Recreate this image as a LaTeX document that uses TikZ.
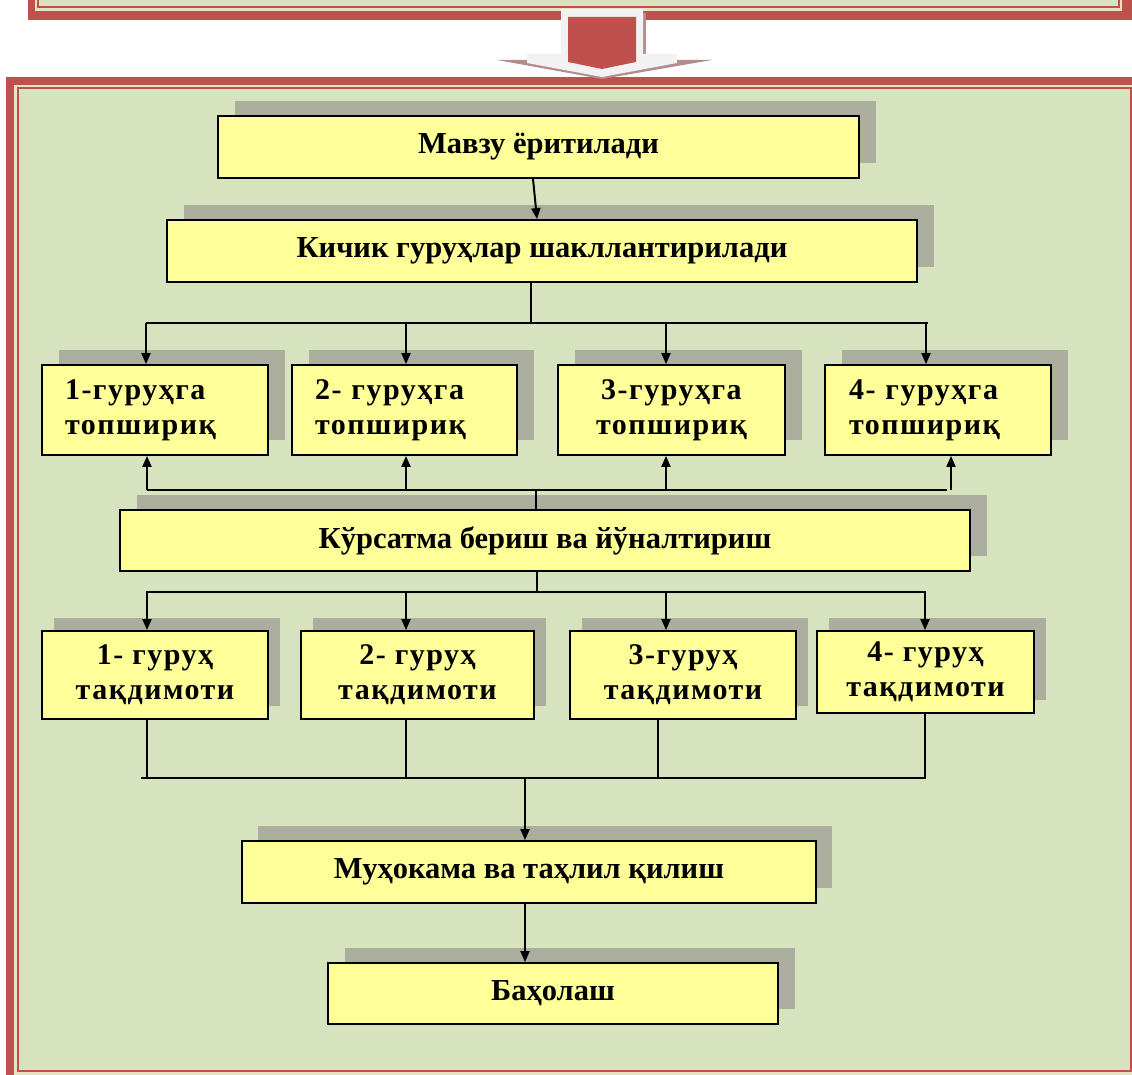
\documentclass[tikz,border=0pt]{standalone}
\usepackage{fontspec}
\setmainfont{Liberation Serif}
\usetikzlibrary{arrows.meta,shadows}
\definecolor{fred}{RGB}{192,80,77}
\definecolor{fbeige}{RGB}{232,226,196}
\definecolor{fgreen}{RGB}{215,227,190}
\definecolor{byellow}{RGB}{255,255,153}
\definecolor{shgray}{RGB}{171,174,156}
\definecolor{agray}{RGB}{242,242,242}
\definecolor{ashadow}{RGB}{181,140,140}
\newcommand\wideletters{\addfontfeature{LetterSpace=5}}
\begin{document}
\begin{tikzpicture}[x=1pt,y=-1pt,
  box/.style={draw=black,line width=1.8pt,fill=byellow,inner sep=0pt,
    font=\fontsize{30.5}{36}\selectfont\bfseries},
  twoline/.style={font=\fontsize{30}{35}\selectfont\bfseries\wideletters},
  shad/.style 2 args={drop shadow={shadow xshift=#1,shadow yshift=#2,fill=shgray,opacity=1}},
  conn/.style={line width=2pt,draw=black},
  arr/.style={conn,-{Triangle[length=11pt,width=9pt]}}]
\useasboundingbox (0,0) rectangle (1132,1075);
\clip (0,0) rectangle (1132,1075);
\fill[white] (0,0) rectangle (1132,1075);
% upper frame
\fill[fred] (28,-40) rectangle (1140,20);
\fill[fbeige] (35,-40) rectangle (1122,11);
\fill[fgreen] (38,-40) rectangle (1119,7);
\draw[fred,line width=2pt] (38,-40) -- (38,7) -- (1119,7) -- (1119,-40);
% lower frame
\fill[fred] (6,77) rectangle (1150,1100);
\fill[fbeige] (14,85) rectangle (1142,1090);
\draw[fred,line width=2pt,fill=fgreen] (18,88.5) rectangle (1131,1071);
% block arrow
\fill[ashadow] (497,60) -- (712,60) -- (602,79) -- cycle;
\fill[ashadow] (643,13) rectangle (646,56);
\fill[agray] (561,9) -- (643,9) -- (643,54) -- (677,54) -- (677,63) -- (602,77) -- (527,63) -- (527,54) -- (561,54) -- cycle;
\fill[fred] (568,17) -- (636,17) -- (636,62) -- (602,69) -- (568,62) -- cycle;
% boxes
\node[box,shad={17pt}{15pt},minimum width=641pt,minimum height=62pt] (b1) at (538.5,147) {Мавзу ёритилади};
\node[box,shad={17pt}{15pt},minimum width=750pt,minimum height=62pt] (b2) at (542,251) {Кичик гуруҳлар шакллантирилади};
\node[box,twoline,shad={17pt}{15pt},minimum width=226pt,minimum height=90pt,text width=180pt,inner xsep=23pt,align=left] (t1) at (155,410) {1-гуруҳга\\топшириқ};
\node[box,twoline,shad={17pt}{15pt},minimum width=225pt,minimum height=90pt,text width=179pt,inner xsep=23pt,align=left] (t2) at (404.5,410) {2- гуруҳга\\топшириқ};
\node[box,twoline,shad={17pt}{15pt},minimum width=227pt,minimum height=90pt,text width=181pt,inner xsep=23pt,align=center] (t3) at (671.5,410) {3-гуруҳга\\топшириқ};
\node[box,twoline,shad={17pt}{15pt},minimum width=226pt,minimum height=90pt,text width=178pt,inner xsep=24pt,align=left] (t4) at (938,410) {4- гуруҳга\\топшириқ};
\node[box,shad={17pt}{15pt},minimum width=850pt,minimum height=61pt] (k) at (545,540.5) {Кўрсатма бериш ва йўналтириш};
\node[box,twoline,shad={12pt}{13pt},minimum width=226pt,minimum height=88pt,align=center] (p1) at (155,675) {1- гуруҳ\\тақдимоти};
\node[box,twoline,shad={12pt}{13pt},minimum width=233pt,minimum height=88pt,align=center] (p2) at (417.5,675) {2- гуруҳ\\тақдимоти};
\node[box,twoline,shad={12pt}{13pt},minimum width=226pt,minimum height=88pt,align=center] (p3) at (683,675) {3-гуруҳ\\тақдимоти};
\node[box,twoline,shad={12pt}{13pt},minimum width=217pt,minimum height=82pt,align=center] (p4) at (925.5,672) {4- гуруҳ\\тақдимоти};
\node[box,shad={16pt}{15pt},minimum width=574pt,minimum height=62pt] (m) at (529,872) {Муҳокама ва таҳлил қилиш};
\node[box,shad={17pt}{15pt},minimum width=450pt,minimum height=61pt] (h) at (553,993.5) {Баҳолаш};
% connectors
\draw[arr] (b1.south -| 533,0) -- (b2.north -| 537,0);
\coordinate (ja) at (531,323);
\draw[conn] (b2.south -| ja) -- (ja);
\draw[conn] (146,323) -- (928,323);
\draw[arr] (146,323) -- (t1.north -| 146,0);
\draw[arr] (406,323) -- (t2.north -| 406,0);
\draw[arr] (666,323) -- (t3.north -| 666,0);
\draw[arr] (926,323) -- (t4.north -| 926,0);
\coordinate (jb) at (536,490);
\draw[conn] (k.north -| jb) -- (jb);
\draw[conn] (147,490) -- (947,490);
\draw[arr] (147,490) -- (t1.south -| 147,0);
\draw[arr] (406,490) -- (t2.south -| 406,0);
\draw[arr] (666,490) -- (t3.south -| 666,0);
\draw[arr] (951,490) -- (t4.south -| 951,0);
\coordinate (jc) at (537,592);
\draw[conn] (k.south -| jc) -- (jc);
\draw[conn] (146,592) -- (926,592);
\draw[arr] (147,592) -- (p1.north -| 147,0);
\draw[arr] (406,592) -- (p2.north -| 406,0);
\draw[arr] (666,592) -- (p3.north -| 666,0);
\draw[arr] (925,592) -- (p4.north -| 925,0);
\draw[conn] (p1.south -| 147,0) -- (147,778);
\draw[conn] (p2.south -| 406,0) -- (406,778);
\draw[conn] (p3.south -| 658,0) -- (658,778);
\draw[conn] (p4.south -| 925,0) -- (925,778);
\draw[conn] (141,778) -- (926,778);
\coordinate (jd) at (525,778);
\draw[arr] (jd) -- (m.north -| jd);
\draw[arr] (m.south -| jd) -- (h.north -| jd);
\end{tikzpicture}
\end{document}
